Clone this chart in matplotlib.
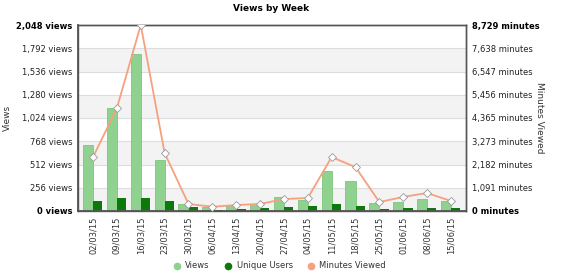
import matplotlib
matplotlib.use("Agg")
from matplotlib import pyplot as plt
from matplotlib.lines import Line2D
import numpy as np

# data
weeks = ["02/03/15", "09/03/15", "16/03/15", "23/03/15", "30/03/15", "06/04/15",
         "13/04/15", "20/04/15", "27/04/15", "04/05/15", "11/05/15", "18/05/15",
         "25/05/15", "01/06/15", "08/06/15", "15/06/15"]
views = [730, 1130, 1730, 560, 80, 45, 70, 80, 155, 122, 440, 330, 88, 100, 135, 110]
unique_users = [110, 143, 148, 110, 44, 12, 24, 33, 44, 50, 77, 55, 25, 33, 33, 28]
minutes = [2530, 4830, 8729, 2720, 330, 200, 280, 330, 560, 610, 2530, 2060, 420, 660, 845, 470]

views_ticks = [0, 256, 512, 768, 1024, 1280, 1536, 1792, 2048]
minutes_max = 8729
minutes_ticks = [0, 1091, 2182, 3273, 4365, 5456, 6547, 7638, 8729]

light_green = "#8fd18f"
dark_green = "#0b7a0b"
salmon = "#f6a080"

fig = plt.figure(figsize=(5.66, 2.77), dpi=100)
ax = fig.add_axes([78 / 566, 66 / 277, 388 / 566, 186 / 277])
ax2 = ax.twinx()

x = np.arange(len(weeks))

# alternating bands
for i in range(0, len(views_ticks) - 1, 2):
    ax.axhspan(views_ticks[i], views_ticks[i + 1], color="#f3f3f3", zorder=0, lw=0)
for t in views_ticks[1:-1]:
    ax.axhline(t, color="#dddddd", lw=0.8, zorder=0.5)

ax.bar(x - 0.21, views, width=0.42, color=light_green, edgecolor="#6fbf6f", lw=0.5, zorder=2)
ax.bar(x + 0.2, unique_users, width=0.38, color=dark_green, lw=0, zorder=2)

ax2.plot(x, minutes, color=salmon, lw=1.3, marker="D", markersize=4,
         markerfacecolor="white", markeredgecolor="#999999", markeredgewidth=0.6, zorder=3)

ax.set_xlim(-0.63, len(weeks) - 1 + 0.63)
ax.set_ylim(0, 2048)
ax2.set_ylim(0, minutes_max)

ax.set_yticks(views_ticks)
ax.set_yticklabels(["{:,} views".format(v) for v in views_ticks], fontsize=6, color="#222222")
ax2.set_yticks(minutes_ticks)
ax2.set_yticklabels(["{:,} minutes".format(v) for v in minutes_ticks], fontsize=6, color="#222222")
for lbl in (ax.get_yticklabels()[0], ax.get_yticklabels()[-1],
            ax2.get_yticklabels()[0], ax2.get_yticklabels()[-1]):
    lbl.set_fontweight("bold")
    lbl.set_color("black")

ax.set_xticks(x)
ax.set_xticklabels(weeks, rotation=90, fontsize=6, color="#333333")

ax.tick_params(axis="both", length=0, pad=4)
ax2.tick_params(axis="y", length=0, pad=4)

for a in (ax, ax2):
    for s in a.spines.values():
        s.set_color("#555555")
        s.set_linewidth(1)
ax.spines["left"].set_linewidth(1.3)
ax.spines["bottom"].set_linewidth(1.3)

ax.set_ylabel("Views", fontsize=6.5, color="#333333")
ax.yaxis.set_label_coords(-0.17, 0.5)
ax2.set_ylabel("Minutes Viewed", fontsize=6.5, color="#333333", rotation=-90, va="center")
ax2.yaxis.set_label_coords(1.19, 0.5)

fig.text(0.479, 0.97, "Views by Week", fontsize=6.5, fontweight="bold", ha="center", va="center")

handles = [Line2D([], [], marker="o", ls="", color=light_green, markersize=4.5),
           Line2D([], [], marker="o", ls="", color=dark_green, markersize=4.5),
           Line2D([], [], marker="o", ls="", color=salmon, markersize=4.5)]
fig.legend(handles, ["Views", "Unique Users", "Minutes Viewed"], loc="center",
           bbox_to_anchor=(0.49, 0.04), ncol=3, frameon=False, fontsize=6,
           handletextpad=0.0, columnspacing=1.2, labelcolor="#333333")

plt.savefig("out.png", dpi=100)
